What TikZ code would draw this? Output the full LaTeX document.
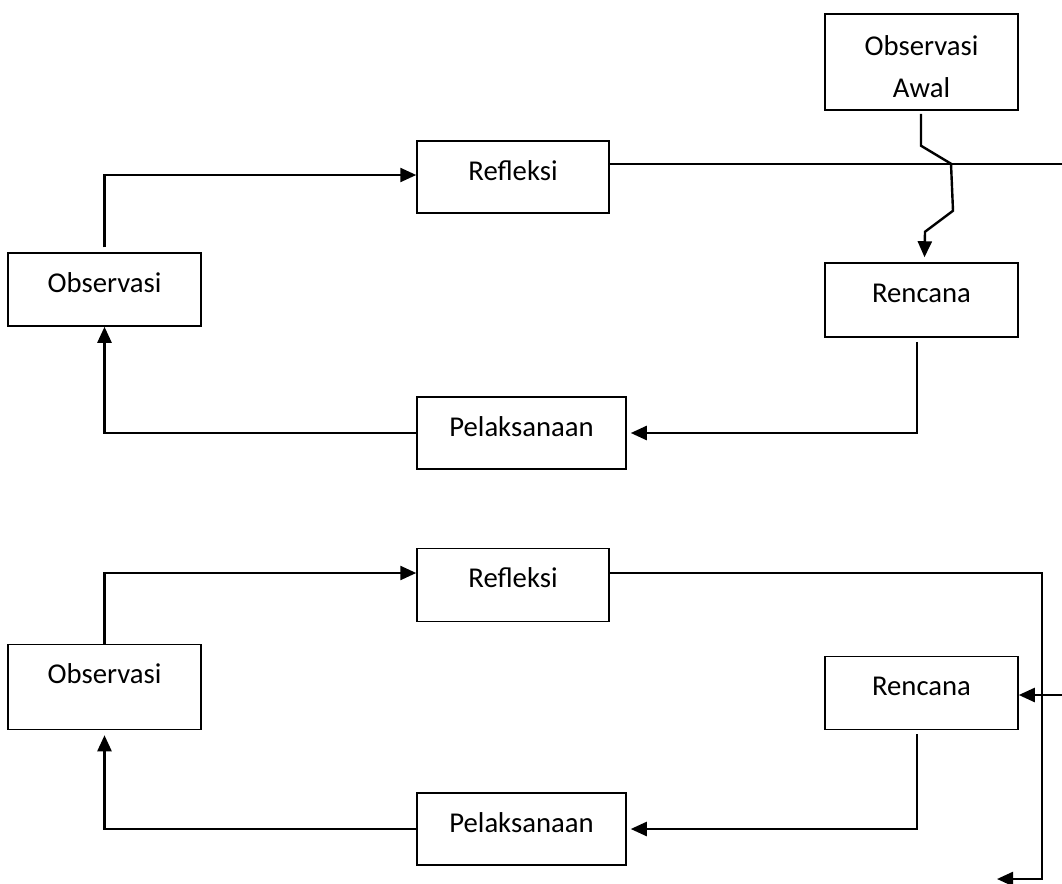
\documentclass[tikz,border=0pt]{standalone}
\usepackage{fontspec}
\setmainfont{Carlito}
\usetikzlibrary{arrows.meta}
\tikzset{
  stepbox/.style={draw=black, line width=1.5pt, rectangle, inner sep=0pt,
    text height=39pt, font=\fontsize{28.7}{42}\selectfont},
  conn/.style={line width=2.4pt, line join=miter},
  arr/.style={conn, -{Triangle[length=16pt,width=14pt]}}
}
\begin{document}
\begin{tikzpicture}[x=1pt,y=-1pt]
\useasboundingbox (0,0) rectangle (1062,883);
% ---------- top cycle ----------
\node[stepbox, minimum width=193pt, minimum height=96pt, text height=, align=center] (oawal) at (921.5,62) {\rule{0pt}{29pt}Observasi\\Awal};
\node[stepbox, minimum width=192pt, text depth=33pt] (ref1) at (513,177) {Refleksi};
\node[stepbox, minimum width=193pt, text depth=34pt] (obs1) at (104.5,289.5) {Observasi};
\node[stepbox, minimum width=193pt, text depth=35pt] (ren1) at (921.5,300) {Rencana};
\node[stepbox, minimum width=209pt, text depth=33pt] (pel1) at (521.5,433) {Pelaksanaan};
\coordinate (exit1) at (1062,164);

\draw[arr] ([yshift=5pt]obs1.north) |- ([yshift=2pt]ref1.west);
\draw[conn] ([yshift=13pt]ref1.east) -- (exit1);
\draw[arr] ([xshift=-0.5pt,yshift=-3pt]oawal.south) -- ++(0,32) -- ++(30,18) -- ++(2,47) -- ++(-28,21) -- ([xshift=3pt,yshift=5pt]ren1.north);
\draw[arr, shorten >=4pt] ([xshift=-4.5pt,yshift=-4pt]ren1.south) |- (pel1.east);
\draw[arr] (pel1.west) -| (obs1.south);

% ---------- bottom cycle ----------
\node[stepbox, minimum width=192pt, text depth=34pt] (ref2) at (513,585) {Refleksi};
\node[stepbox, minimum width=193pt, text depth=46pt] (obs2) at (104.5,687) {Observasi};
\node[stepbox, minimum width=193pt, text depth=34pt] (ren2) at (921.5,693) {Rencana};
\node[stepbox, minimum width=209pt, text depth=33pt] (pel2) at (521.5,829) {Pelaksanaan};
\coordinate (in2) at (1062,695);
\coordinate (end2) at (997,879);
\coordinate (turn2) at (1042,573);

\draw[arr] (obs2.north) |- ([yshift=12pt]ref2.west);
\draw[arr] ([yshift=12pt]ref2.east) -- (turn2) |- (end2);
\draw[arr] (in2) -- ([yshift=-2pt]ren2.east);
\draw[arr, shorten >=4pt] ([xshift=-4.5pt,yshift=-4pt]ren2.south) |- (pel2.east);
\draw[arr, shorten >=5pt] (pel2.west) -| (obs2.south);
\end{tikzpicture}
\end{document}
